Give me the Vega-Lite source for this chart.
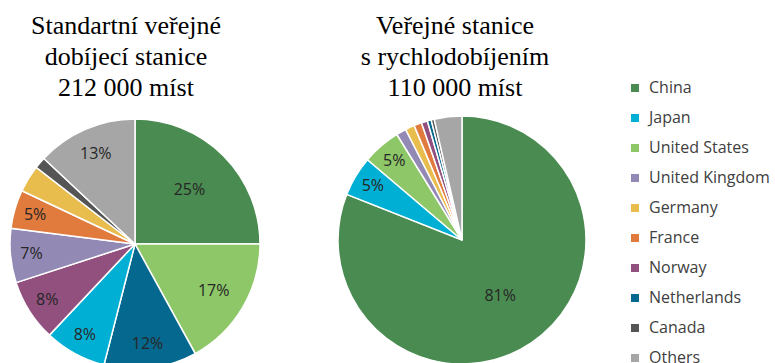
{
  "$schema": "https://vega.github.io/schema/vega-lite/v6.json",
  "padding": {"top": 13, "left": 0, "right": 0, "bottom": 0},
  "background": "white",
  "datasets": {
    "standard": [
      {"country": "China", "value": 25},
      {"country": "United States", "value": 17},
      {"country": "Netherlands", "value": 12},
      {"country": "Japan", "value": 8},
      {"country": "Norway", "value": 8},
      {"country": "United Kingdom", "value": 7},
      {"country": "France", "value": 5},
      {"country": "Germany", "value": 3.5},
      {"country": "Canada", "value": 1.5},
      {"country": "Others", "value": 13}
    ],
    "fast": [
      {"country": "China", "value": 81},
      {"country": "Japan", "value": 5.2},
      {"country": "United States", "value": 5},
      {"country": "United Kingdom", "value": 1.3},
      {"country": "Germany", "value": 1.2},
      {"country": "France", "value": 1.0},
      {"country": "Norway", "value": 0.8},
      {"country": "Netherlands", "value": 0.5},
      {"country": "Canada", "value": 0.4},
      {"country": "Others", "value": 3.6}
    ]
  },
  "config": {
    "view": {"stroke": null},
    "title": {"font": "Liberation Serif", "fontSize": 26, "fontWeight": "normal", "lineHeight": 31, "color": "#000000", "anchor": "middle", "offset": 10},
    "legend": {
      "orient": "none",
      "legendX": 627,
      "legendY": -31,
      "title": null,
      "symbolType": "square",
      "symbolSize": 64,
      "symbolStrokeWidth": 0,
      "labelFont": "Open Sans",
      "labelFontSize": 16,
      "labelColor": "#404040",
      "labelOffset": 6,
      "rowPadding": 14,
      "padding": 0
    }
  },
  "spacing": 64,
  "hconcat": [
    {
      "width": 270,
      "height": 266,
      "title": {"text": ["Standartní veřejné", "dobíjecí stanice", "212 000 míst"], "dx": -9},
      "data": {"name": "standard"},
      "transform": [
        {"calculate": "datum.country === 'Others' ? 1000 : -datum.value", "as": "rank"},
        {"calculate": "datum.value >= 4.5 ? format(datum.value, '.0f') + '%' : ''", "as": "label"}
      ],
      "encoding": {
        "theta": {"field": "value", "type": "quantitative", "stack": true},
        "order": {"field": "rank", "type": "quantitative"}
      },
      "layer": [
        {
          "mark": {"type": "arc", "outerRadius": 125, "stroke": "white", "strokeWidth": 1.5},
          "encoding": {
            "color": {
              "field": "country",
              "type": "nominal",
              "scale": {
                "domain": ["China", "Japan", "United States", "United Kingdom", "Germany", "France", "Norway", "Netherlands", "Canada", "Others"],
                "range": ["#4a8b51", "#00b0d4", "#8dc768", "#9389b5", "#e9bc4e", "#e07a3d", "#92507e", "#05688e", "#555555", "#a6a6a6"]
              }
            }
          }
        },
        {
          "mark": {"type": "text", "font": "Open Sans", "fontSize": 16, "fill": "#262626"},
          "encoding": {
            "detail": {"field": "country", "type": "nominal"},
            "text": {"field": "label", "type": "nominal"},
            "radius": {"field": "value", "type": "quantitative", "scale": {"type": "linear", "domain": [10, 30], "range": [104, 68], "clamp": true, "zero": false}}
          }
        }
      ]
    },
    {
      "width": 256,
      "height": 258,
      "title": {"text": ["Veřejné stanice", "s rychlodobíjením", "110 000 míst"], "dx": -7},
      "data": {"name": "fast"},
      "transform": [
        {"calculate": "datum.country === 'Others' ? 1000 : -datum.value", "as": "rank"},
        {"calculate": "datum.value >= 4.5 ? format(datum.value, '.0f') + '%' : ''", "as": "label"}
      ],
      "encoding": {
        "theta": {"field": "value", "type": "quantitative", "stack": true},
        "order": {"field": "rank", "type": "quantitative"}
      },
      "layer": [
        {
          "mark": {"type": "arc", "outerRadius": 124, "stroke": "white", "strokeWidth": 1.5},
          "encoding": {
            "color": {"field": "country", "type": "nominal"}
          }
        },
        {
          "mark": {"type": "text", "font": "Open Sans", "fontSize": 16, "fill": "#262626"},
          "encoding": {
            "detail": {"field": "country", "type": "nominal"},
            "text": {"field": "label", "type": "nominal"},
            "radius": {"field": "value", "type": "quantitative", "scale": {"type": "linear", "domain": [10, 30], "range": [104, 68], "clamp": true, "zero": false}}
          }
        }
      ]
    }
  ]
}
